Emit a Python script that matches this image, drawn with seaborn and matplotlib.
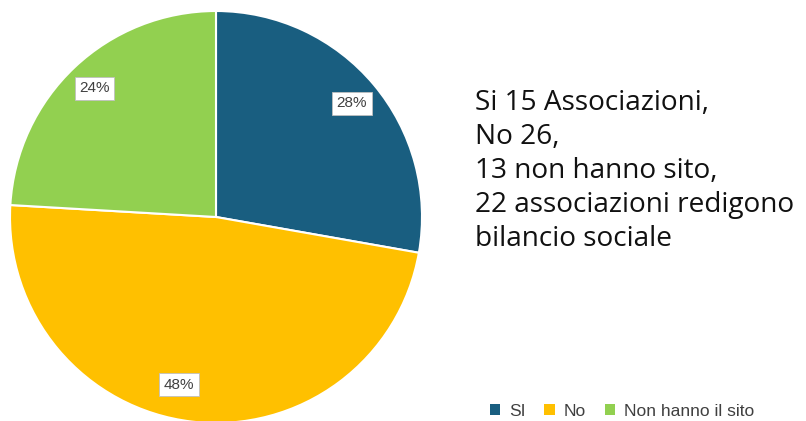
import matplotlib.pyplot as plt
import seaborn as sns
from matplotlib.patches import Patch

categorie = ["SI", "No", "Non hanno il sito"]
valori = [15, 26, 13]
colori = ["#195e80", "#ffc000", "#92d050"]
testo_note = "Si 15 Associazioni,\nNo 26,\n13 non hanno sito,\n22 associazioni redigono\nbilancio sociale"

sns.set_theme(style="white")
plt.rcParams['font.family'] = ['Liberation Sans', 'DejaVu Sans']

fig = plt.figure(figsize=(8.06, 4.21), dpi=100)
# asse della torta: centro ~ (216, 217) px, raggio ~206 px
ax = fig.add_axes([(216 - 206) / 806, (421 - 217 - 206) / 421, 412 / 806, 412 / 421])

wedges, texts, autotexts = ax.pie(
    valori, colors=colori, startangle=90, counterclock=False,
    autopct='%1.0f%%', pctdistance=0.86,
    wedgeprops=dict(edgecolor='white', linewidth=1.5),
    textprops=dict(fontsize=11, color='#404040'),
)
for t in autotexts:
    t.set_bbox(dict(boxstyle='square,pad=0.3', facecolor='white', edgecolor='#bfbfbf', linewidth=0.6))
# etichetta del 48% spostata leggermente come nell'originale
x, y = autotexts[1].get_position()
autotexts[1].set_position((x - 0.08, y + 0.04))
ax.set_aspect('equal')
ax.set_xlim(-1, 1)
ax.set_ylim(-1, 1)

fig.text(475 / 806, 1 - 89 / 421, testo_note, fontsize=20.2, family=['Open Sans', 'DejaVu Sans'],
         color='#111111', va='top', ha='left', linespacing=1.29)

handles = [Patch(facecolor=c, edgecolor='none') for c in colori]
fig.legend(handles, categorie, loc='center left', bbox_to_anchor=(474 / 806, 1 - 411 / 421),
           ncol=3, frameon=False, handlelength=0.6, handleheight=0.6,
           handletextpad=0.5, columnspacing=1.1, labelcolor='#404040',
           prop=dict(family=['Liberation Sans Narrow', 'Liberation Sans'], size=12.5))

plt.savefig("out.png", dpi=100)
plt.close()
